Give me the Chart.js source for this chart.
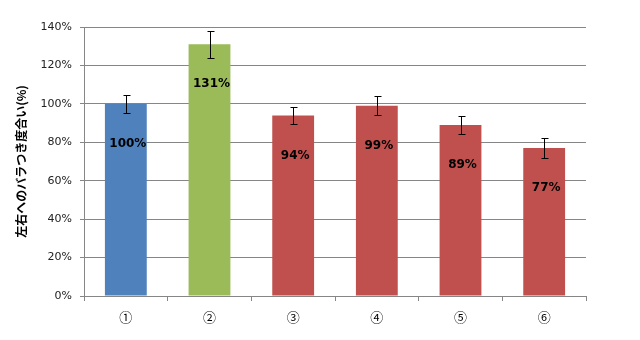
<!DOCTYPE html>
<html><head><meta charset="utf-8">
<script src="https://cdn.jsdelivr.net/npm/chart.js@4/dist/chart.umd.min.js"></script>
<style>html,body{margin:0;padding:0;background:#fff}#wrap{width:640px;height:340px}</style>
</head><body><div id="wrap"><canvas id="c" width="640" height="340"></canvas></div>
<script>
const categories = ["①","②","③","④","⑤","⑥"];
const values = [100, 131, 94, 99, 89, 77];
const errors = [4.5, 7, 4.5, 5, 4.7, 5];
const labels = ["100%","131%","94%","99%","89%","77%"];
const barColors = ["#4F81BD","#9BBB59","#C0504D","#C0504D","#C0504D","#C0504D"];
const yTitle = "左右へのバラつき度合い(%)";

const errorBars = {
  id: 'errorBars',
  afterDatasetsDraw(chart) {
    const ctx = chart.ctx, y = chart.scales.y, meta = chart.getDatasetMeta(0);
    ctx.save();
    ctx.strokeStyle = '#000'; ctx.lineWidth = 1;
    meta.data.forEach((bar, i) => {
      const x = Math.round(bar.x) + 0.5;
      const t = Math.round(y.getPixelForValue(values[i] + errors[i])) + 0.5;
      const b = Math.round(y.getPixelForValue(values[i] - errors[i])) + 0.5;
      ctx.beginPath();
      ctx.moveTo(x, t); ctx.lineTo(x, b);
      ctx.moveTo(x - 3, t); ctx.lineTo(x + 4, t);
      ctx.moveTo(x - 3, b); ctx.lineTo(x + 4, b);
      ctx.stroke();
    });
    ctx.fillStyle = '#000';
    ctx.font = 'bold 12px "DejaVu Sans", Verdana, sans-serif';
    ctx.textAlign = 'center'; ctx.textBaseline = 'middle';
    meta.data.forEach((bar, i) => {
      ctx.fillText(labels[i], bar.x + 2, y.getPixelForValue(values[i]) + 40);
    });
    ctx.restore();
  }
};

new Chart(document.getElementById('c'), {
  type: 'bar',
  data: { labels: categories, datasets: [{ data: values, backgroundColor: barColors, borderWidth: 0, categoryPercentage: 1, barPercentage: 0.5 }] },
  options: {
    responsive: false, animation: false,
    layout: { padding: { top: 27, right: 54, left: 0, bottom: 0 } },
    plugins: { legend: { display: false }, tooltip: { enabled: false } },
    scales: {
      x: {
        afterFit(s) { s.height = 44; },
        grid: { display: true, drawOnChartArea: false, offset: true, tickLength: 5, color: '#868686' },
        border: { color: '#868686' },
        ticks: { color: '#000', font: { family: '"Noto Sans CJK JP"', size: 13 }, padding: 8 }
      },
      y: {
        min: 0, max: 140,
        afterFit(s) { s.width = 84; },
        grid: { color: '#868686', tickLength: 4 },
        border: { color: '#868686' },
        ticks: { stepSize: 20, color: '#222', callback: v => v + '%', font: { family: '"DejaVu Sans", Verdana, sans-serif', size: 11 }, padding: 8 },
        title: { display: true, text: yTitle, color: '#000', font: { family: '"Noto Sans CJK JP"', size: 12, weight: 'bold' }, padding: { top: 14, bottom: 4 } }
      }
    }
  },
  plugins: [errorBars]
});
</script></body></html>
